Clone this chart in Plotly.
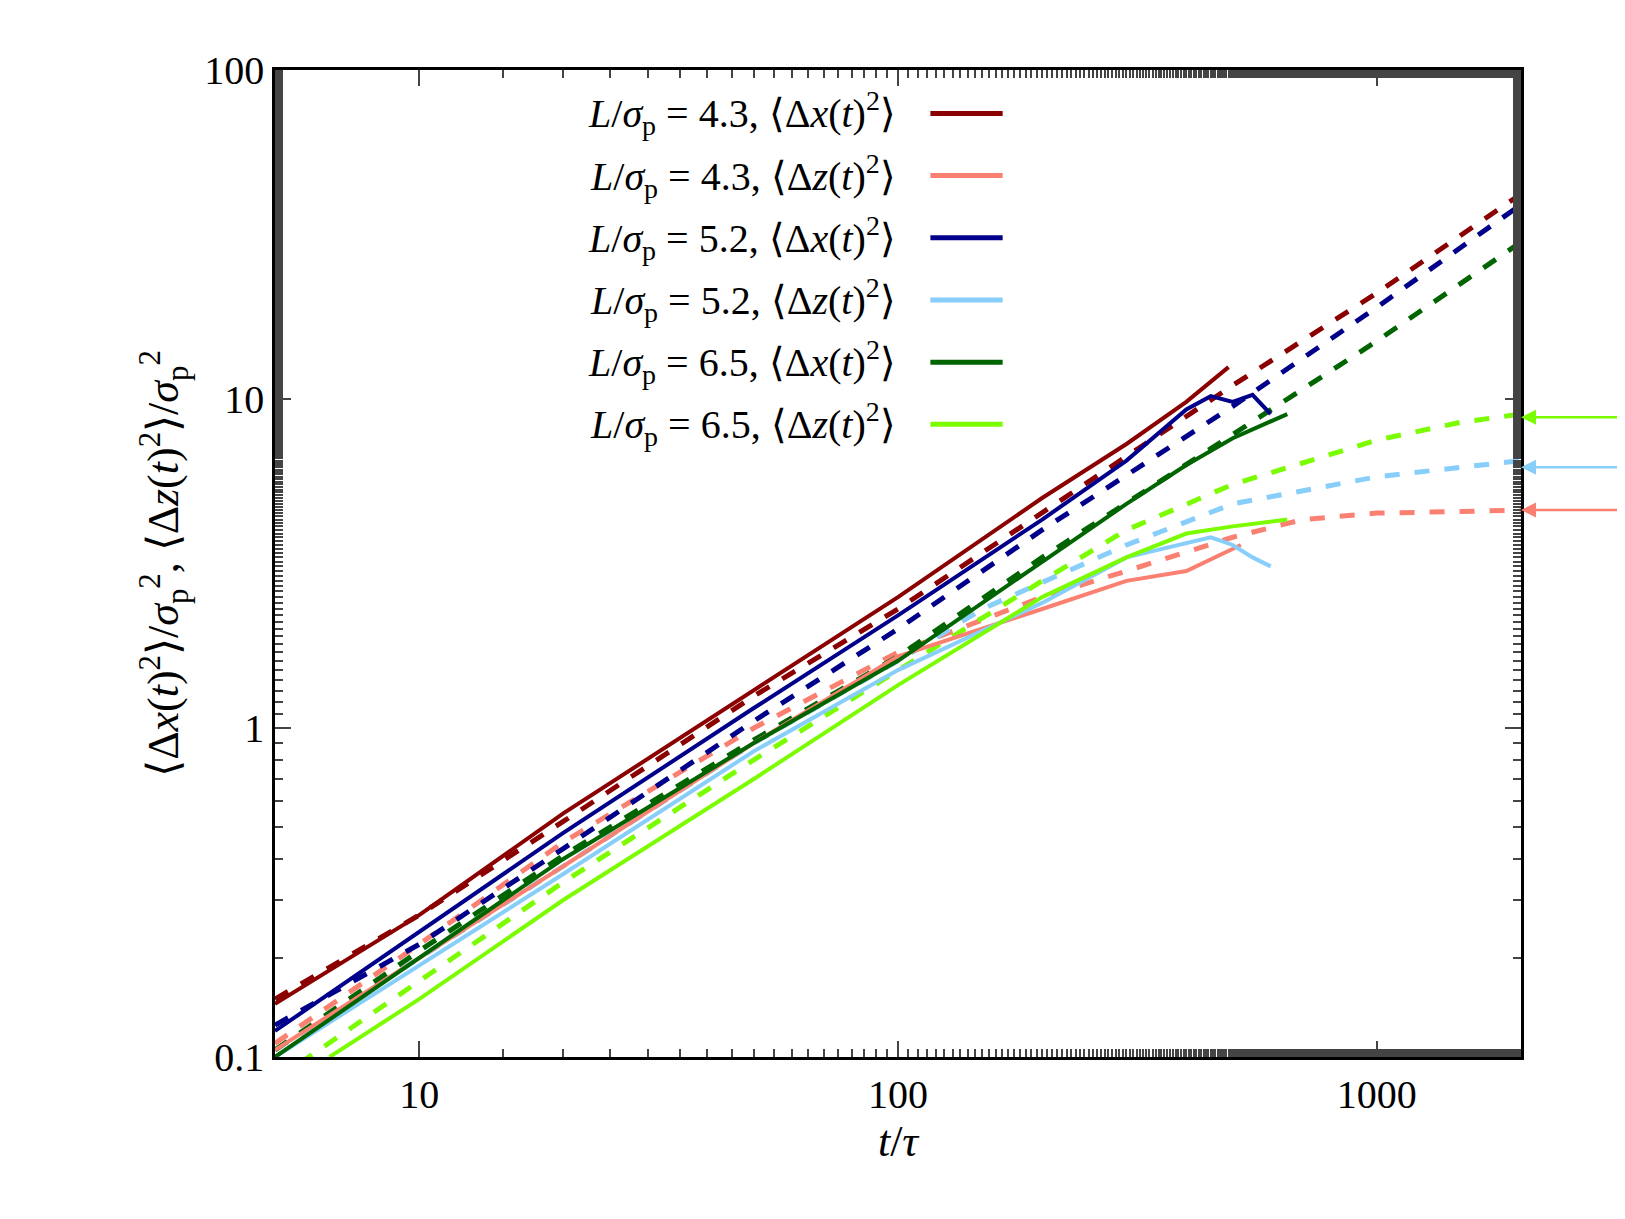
import math
import plotly.graph_objects as go

# ---- data ----
t_rx = [5, 10, 20, 50, 100, 200, 300, 400, 490]
v_rx = [0.145, 0.27, 0.55, 1.3, 2.5, 5.0, 7.3, 9.8, 12.5]
t_rx_d = [5, 10, 20, 50, 100, 200, 500, 1000, 2000]
v_rx_d = [0.15, 0.27, 0.52, 1.25, 2.3, 4.5, 11, 21, 42]

t_rz = [5, 10, 20, 50, 100, 200, 300, 400, 480, 520]
v_rz = [0.105, 0.2, 0.38, 0.9, 1.65, 2.3, 2.8, 3.0, 3.4, 3.6]
t_rz_d = [5, 10, 20, 50, 100, 200, 300, 500, 700, 1000, 1500, 2000]
v_rz_d = [0.11, 0.22, 0.45, 1.0, 1.7, 2.5, 3.0, 3.8, 4.3, 4.5, 4.55, 4.6]

t_bx = [5, 10, 20, 50, 100, 200, 300, 400, 450, 500, 550, 600]
v_bx = [0.12, 0.24, 0.48, 1.15, 2.2, 4.3, 6.5, 9.3, 10.2, 9.8, 10.3, 9.0]
t_bx_d = [5, 10, 20, 50, 100, 200, 500, 1000, 2000]
v_bx_d = [0.125, 0.22, 0.43, 1.05, 2.0, 4.0, 9.5, 19, 39]

t_bz = [5, 10, 20, 50, 100, 200, 300, 450, 500, 550, 600]
v_bz = [0.1, 0.19, 0.36, 0.85, 1.5, 2.4, 3.3, 3.8, 3.6, 3.3, 3.1]
t_bz_d = [5, 10, 20, 50, 100, 150, 300, 500, 1000, 1500, 2000]
v_bz_d = [0.105, 0.2, 0.38, 0.9, 1.6, 2.3, 3.6, 4.8, 5.8, 6.2, 6.5]

t_gx = [5, 10, 20, 50, 100, 200, 300, 400, 500, 650]
v_gx = [0.1, 0.2, 0.4, 0.9, 1.6, 3.2, 4.8, 6.3, 7.6, 9.0]
t_gx_d = [5, 10, 20, 50, 100, 200, 500, 1000, 2000]
v_gx_d = [0.105, 0.21, 0.41, 0.92, 1.65, 3.3, 7.8, 15, 30]

t_gz = [6.5, 10, 20, 50, 100, 200, 300, 400, 500, 650]
v_gz = [0.1, 0.15, 0.3, 0.7, 1.35, 2.5, 3.3, 3.9, 4.1, 4.3]
t_gz_d = [5, 10, 20, 50, 100, 200, 300, 500, 1000, 1500, 2000]
v_gz_d = [0.085, 0.17, 0.34, 0.8, 1.5, 2.8, 4.0, 5.5, 7.5, 8.5, 9.0]

plateaus = [8.8, 6.2, 4.6]

C = ["#8b0000", "#fa8072", "#00008b", "#87cefa", "#006400", "#7cfc00"]
labels = [("4.3", "x"), ("4.3", "z"), ("5.2", "x"), ("5.2", "z"), ("6.5", "x"), ("6.5", "z")]
solid = [(t_rx, v_rx), (t_rz, v_rz), (t_bx, v_bx), (t_bz, v_bz), (t_gx, v_gx), (t_gz, v_gz)]
dashed = [(t_rx_d, v_rx_d), (t_rz_d, v_rz_d), (t_bx_d, v_bx_d), (t_bz_d, v_bz_d), (t_gx_d, v_gx_d), (t_gz_d, v_gz_d)]

fig = go.Figure()
for (t, v), c in zip(dashed, C):
    fig.add_trace(go.Scatter(x=t, y=v, mode="lines", line=dict(color=c, width=5, dash="dash"), showlegend=False))
for (t, v), c in zip(solid, C):
    fig.add_trace(go.Scatter(x=t, y=v, mode="lines", line=dict(color=c, width=4), showlegend=False))

FONT = "Liberation Serif"
for i, ((L, d), c) in enumerate(zip(labels, C)):
    yp = 0.956 - i * 0.063
    fig.add_annotation(x=0.50, y=yp, xref="paper", yref="paper", xanchor="right", yanchor="middle",
                       showarrow=False, font=dict(size=40, family=FONT, color="black"),
                       text=f"<i>L</i>/<i>σ</i><sub>p</sub> = {L}, ⟨Δ<i>{d}</i>(<i>t</i>)<sup>2</sup>⟩")
    fig.add_shape(type="line", xref="paper", yref="paper", x0=0.526, x1=0.584, y0=yp, y1=yp,
                  line=dict(color=c, width=5))

for yv, c in zip(plateaus, [C[5], C[3], C[1]]):
    ly = math.log10(yv)
    fig.add_annotation(x=1.0, y=ly, xref="x domain", yref="y", ax=1.09, ay=ly, axref="x domain", ayref="y",
                       showarrow=True, arrowhead=2, arrowsize=1.2, arrowwidth=2.5, arrowcolor=c, text="")

fig.update_layout(
    width=1625, height=1219, paper_bgcolor="white", plot_bgcolor="white",
    margin=dict(l=267, r=112, t=62, b=170),
    font=dict(family=FONT, size=40, color="black"),
    xaxis=dict(type="log", range=[0.699, 3.301], tickvals=[10, 100, 1000], ticktext=["10", "100", "1000"],
               ticks="inside", ticklen=16, tickwidth=2, mirror="allticks", showline=True, linecolor="black",
               linewidth=2.5, showgrid=False, zeroline=False,
               minor=dict(ticks="inside", ticklen=8, tickwidth=1.5, showgrid=False),
               title=dict(text="<i>t</i>/<i>τ</i>", font=dict(size=44), standoff=8)),
    yaxis=dict(type="log", range=[-1, 2], tickvals=[0.1, 1, 10, 100], ticktext=["0.1", "1", "10", "100"],
               ticks="inside", ticklen=16, tickwidth=2, mirror="allticks", showline=True, linecolor="black",
               linewidth=2.5, showgrid=False, zeroline=False,
               minor=dict(ticks="inside", ticklen=8, tickwidth=1.5, showgrid=False),
               title=dict(text="⟨Δ<i>x</i>(<i>t</i>)<sup>2</sup>⟩/<i>σ</i><sub>p</sub><sup>2</sup>, ⟨Δ<i>z</i>(<i>t</i>)<sup>2</sup>⟩/<i>σ</i><sub>p</sub><sup>2</sup>",
                          font=dict(size=44), standoff=12)),
)
fig.write_html("out.html")
